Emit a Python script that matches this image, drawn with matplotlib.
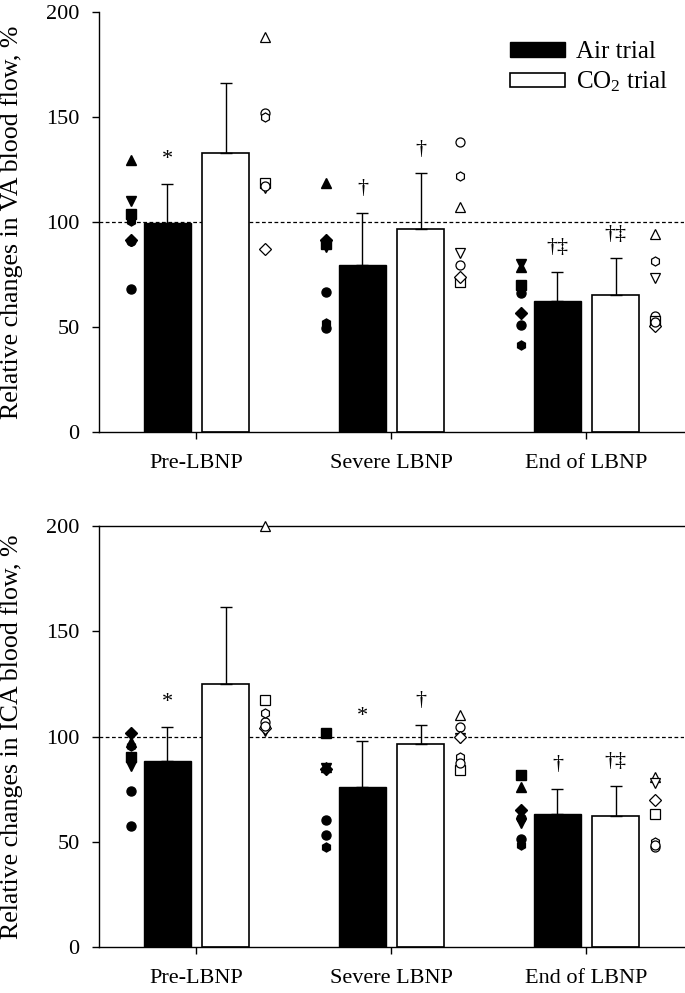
import matplotlib
matplotlib.use("Agg")
import matplotlib.pyplot as plt
from matplotlib.patches import Patch
import numpy as np

plt.rcParams['font.family'] = ['Liberation Serif', 'DejaVu Serif']
plt.rcParams['mathtext.fontset'] = 'custom'
plt.rcParams['mathtext.rm'] = 'Liberation Serif'
plt.rcParams['mathtext.it'] = 'Liberation Serif:italic'

categories = ["Pre-LBNP", "Severe LBNP", "End of LBNP"]
series = ["Air trial", r"CO$_2$ trial"]

# VA panel
va_air_mean = [99.5, 79.7, 62.5]
va_air_sd = [18.5, 24.7, 13.7]
va_co2_mean = [133.0, 96.7, 65.2]
va_co2_sd = [33.3, 26.5, 17.5]
# individual subjects (subject order: 1..7)
va_air_ind = [
    [68, 129.5, 110, 104, 91.4, 100.5, 91],
    [66.5, 118.7, 88, 89.5, 91.5, 51.7, 49.5],
    [51, 78.5, 80, 70, 56.5, 41.4, 66],
]
va_co2_ind = [
    [152, 188, 116, 118.4, 87, 150.2, 117],
    [138.2, 107.3, 85.1, 71.6, 74, 121.9, 79.5],
    [55, 94.3, 73.2, 53, 50.6, 81.6, 52.5],
]
va_air_sig = ["*", "\u2020", "\u2020\u2021"]
va_co2_sig = ["", "\u2020", "\u2020\u2021"]

# ICA panel
ica_air_mean = [88.5, 76.2, 63.2]
ica_air_sd = [16.0, 21.8, 11.9]
ica_co2_mean = [125.1, 96.3, 62.4]
ica_co2_sd = [36.6, 9.3, 14.2]
ica_air_ind = [
    [57.5, 97.5, 86, 90.4, 101.5, 95.5, 74],
    [60.3, 85.5, 85, 101.5, 84.5, 47.6, 53.2],
    [51.3, 76.2, 58.8, 81.7, 65.1, 48.5, 61.1],
]
ica_co2_ind = [
    [107, 200, 102.8, 117.3, 104, 111.3, 105],
    [104.7, 110.2, 99.5, 84.1, 99.9, 90.4, 87.2],
    [47.4, 80.9, 77.7, 63, 69.8, 50, 48.5],
]
ica_air_sig = ["*", "*", "\u2020"]
ica_co2_sig = ["", "\u2020", "\u2020\u2021"]

subject_markers = ['o', '^', 'v', 's', 'D', 'h', 'o']

FS = 16
fig = plt.figure(figsize=(6.85, 9.93), dpi=100)
ax1 = fig.add_axes([0.1445, 0.5650, 0.854, 0.4230])
ax2 = fig.add_axes([0.1445, 0.0463, 0.854, 0.4240])

def draw(ax, air_m, air_sd, co2_m, co2_sd, air_ind, co2_ind, air_sig, co2_sig, ylabel, top_spine):
    x = np.arange(len(categories))
    w = 0.245
    off = 0.149
    ax.bar(x - off, air_m, w, color='black', edgecolor='black', linewidth=1.0, zorder=2)
    ax.bar(x + off, co2_m, w, color='white', edgecolor='black', linewidth=1.2, zorder=2)
    ax.errorbar(x - off, air_m, yerr=[np.zeros(3), air_sd], fmt='none', ecolor='black',
                elinewidth=1.0, capsize=4.5, capthick=1.0, zorder=3)
    ax.errorbar(x + off, co2_m, yerr=[np.zeros(3), co2_sd], fmt='none', ecolor='black',
                elinewidth=1.0, capsize=4.5, capthick=1.0, zorder=3)
    ax.axhline(100, color='black', linestyle=(0, (3, 2)), linewidth=0.9, zorder=1)
    for i in range(len(categories)):
        for j, m in enumerate(subject_markers):
            ax.plot(x[i] - 0.338, air_ind[i][j], marker=m, ms=6.5, mfc='black', mec='black',
                    linestyle='none', zorder=4, clip_on=False)
            ax.plot(x[i] + 0.35, co2_ind[i][j], marker=m, ms=6.5, mfc='white', mec='black',
                    mew=0.9, linestyle='none', zorder=4, clip_on=False)
        if air_sig[i]:
            ax.text(x[i] - off, air_m[i] + air_sd[i] + 7, air_sig[i], ha='center', va='bottom',
                    fontsize=FS)
        if co2_sig[i]:
            ax.text(x[i] + off, co2_m[i] + co2_sd[i] + 7, co2_sig[i], ha='center', va='bottom',
                    fontsize=FS)
    ax.set_xlim(-0.5, 2.5)
    ax.set_ylim(0, 200)
    ax.set_yticks([0, 50, 100, 150, 200])
    ax.set_xticks(x)
    ax.set_xticklabels(categories)
    ax.tick_params(axis='both', direction='out', length=5, width=1, labelsize=FS, pad=9)
    ax.tick_params(axis='x', pad=11)
    ax.spines['right'].set_visible(False)
    ax.spines['top'].set_visible(top_spine)
    for s in ['left', 'bottom', 'top']:
        ax.spines[s].set_linewidth(1.0)
    ax.set_ylabel(ylabel, fontsize=18.6)
    ax.yaxis.set_label_coords(-0.13, 0.5)

draw(ax1, va_air_mean, va_air_sd, va_co2_mean, va_co2_sd, va_air_ind, va_co2_ind,
     va_air_sig, va_co2_sig, "Relative changes in VA blood flow, %", False)
draw(ax2, ica_air_mean, ica_air_sd, ica_co2_mean, ica_co2_sd, ica_air_ind, ica_co2_ind,
     ica_air_sig, ica_co2_sig, "Relative changes in ICA blood flow, %", True)

handles = [Patch(facecolor='black', edgecolor='black', linewidth=1.0),
           Patch(facecolor='white', edgecolor='black', linewidth=1.2)]
ax1.legend(handles, series, loc='upper left', bbox_to_anchor=(0.703, 0.93), frameon=False,
           fontsize=18, handlelength=2.2, handleheight=0.5, handletextpad=0.45,
           labelspacing=0.25, borderpad=0, borderaxespad=0)

fig.savefig("out.png", dpi=100)
